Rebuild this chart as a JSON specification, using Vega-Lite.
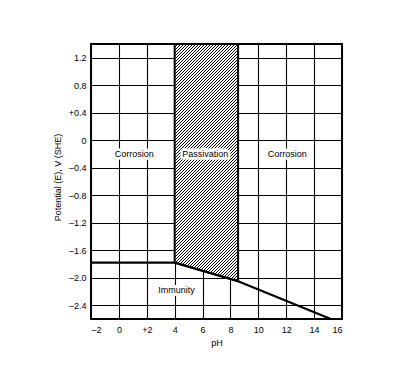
{
"$schema": "https://vega.github.io/schema/vega-lite/v6.json",
"width": 251, "height": 275,
"autosize": {"type": "none"},
"padding": {"left": 91, "top": 44, "right": 58, "bottom": 67},
"background": "white",
"config": {
  "view": {"stroke": "#000", "strokeWidth": 2},
  "font": "Liberation Sans",
  "axis": {"grid": true, "gridColor": "#000", "gridWidth": 1.1, "gridOpacity": 1, "ticks": false, "domain": false,
    "labelFont": "Liberation Sans", "labelFontSize": 9, "labelColor": "#000",
    "titleFont": "Liberation Sans", "titleFontSize": 9, "titleFontWeight": "normal", "titleColor": "#000"}
},
"datasets": {
  "boundary": [{"pH": -2, "E": -1.78}, {"pH": 4, "E": -1.78}, {"pH": 8.55, "E": -2.05}, {"pH": 15.2, "E": -2.6}],
  "passivation": [{"pH": 4, "E": -1.78, "top": 1.4}, {"pH": 8.55, "E": -2.05, "top": 1.4}],
  "labels": [{"label": "Corrosion", "pH": 1.1, "E": -0.2}, {"label": "Passivation", "pH": 6.2, "E": -0.2}, {"label": "Corrosion", "pH": 12.07, "E": -0.2}, {"label": "Immunity", "pH": 4.14, "E": -2.185}]
},
"encoding": {
  "x": {"field": "pH", "type": "quantitative", "scale": {"domain": [-2, 16], "nice": false, "zero": false},
    "axis": {"title": "pH", "values": [-2, 0, 2, 4, 6, 8, 10, 12, 14, 16], "labelExpr": "datum.value < 0 ? '–' + format(-datum.value, 'd') : datum.value == 2 ? '+2' : format(datum.value, 'd')", "labelPadding": 6, "titleY": 23, "titleBaseline": "middle"}},
  "y": {"field": "E", "type": "quantitative", "scale": {"domain": [-2.6, 1.4], "nice": false, "zero": false},
    "axis": {"title": "Potential (E), V (SHE)", "values": [-2.4, -2, -1.6, -1.2, -0.8, -0.4, 0, 0.4, 0.8, 1.2], "labelExpr": "datum.value == 0 ? '0' : datum.value < 0 ? '–' + format(-datum.value, '.1f') : (datum.value < 0.5 ? '+' : '') + format(datum.value, '.1f')", "labelPadding": 5, "titleX": -34, "titleY": 133, "titleBaseline": "middle", "titleAngle": -90}}
},
"layer": [
  {"data": {"name": "passivation"},
   "mark": {"type": "area", "stroke": "#000", "strokeWidth": 2, "opacity": 1,
     "fill": {"gradient": "linear", "x1": 0, "y1": 0, "x2": 0.316, "y2": 1.181, "stops": [
{"offset":0,"color":"#000"},{"offset":0.0035,"color":"#000"},{"offset":0.0035,"color":"#fff"},{"offset":0.01,"color":"#fff"},
{"offset":0.01,"color":"#000"},{"offset":0.0135,"color":"#000"},{"offset":0.0135,"color":"#fff"},{"offset":0.02,"color":"#fff"},
{"offset":0.02,"color":"#000"},{"offset":0.0235,"color":"#000"},{"offset":0.0235,"color":"#fff"},{"offset":0.03,"color":"#fff"},
{"offset":0.03,"color":"#000"},{"offset":0.0335,"color":"#000"},{"offset":0.0335,"color":"#fff"},{"offset":0.04,"color":"#fff"},
{"offset":0.04,"color":"#000"},{"offset":0.0435,"color":"#000"},{"offset":0.0435,"color":"#fff"},{"offset":0.05,"color":"#fff"},
{"offset":0.05,"color":"#000"},{"offset":0.0535,"color":"#000"},{"offset":0.0535,"color":"#fff"},{"offset":0.06,"color":"#fff"},
{"offset":0.06,"color":"#000"},{"offset":0.0635,"color":"#000"},{"offset":0.0635,"color":"#fff"},{"offset":0.07,"color":"#fff"},
{"offset":0.07,"color":"#000"},{"offset":0.0735,"color":"#000"},{"offset":0.0735,"color":"#fff"},{"offset":0.08,"color":"#fff"},
{"offset":0.08,"color":"#000"},{"offset":0.0835,"color":"#000"},{"offset":0.0835,"color":"#fff"},{"offset":0.09,"color":"#fff"},
{"offset":0.09,"color":"#000"},{"offset":0.0935,"color":"#000"},{"offset":0.0935,"color":"#fff"},{"offset":0.10,"color":"#fff"},
{"offset":0.10,"color":"#000"},{"offset":0.1035,"color":"#000"},{"offset":0.1035,"color":"#fff"},{"offset":0.11,"color":"#fff"},
{"offset":0.11,"color":"#000"},{"offset":0.1135,"color":"#000"},{"offset":0.1135,"color":"#fff"},{"offset":0.12,"color":"#fff"},
{"offset":0.12,"color":"#000"},{"offset":0.1235,"color":"#000"},{"offset":0.1235,"color":"#fff"},{"offset":0.13,"color":"#fff"},
{"offset":0.13,"color":"#000"},{"offset":0.1335,"color":"#000"},{"offset":0.1335,"color":"#fff"},{"offset":0.14,"color":"#fff"},
{"offset":0.14,"color":"#000"},{"offset":0.1435,"color":"#000"},{"offset":0.1435,"color":"#fff"},{"offset":0.15,"color":"#fff"},
{"offset":0.15,"color":"#000"},{"offset":0.1535,"color":"#000"},{"offset":0.1535,"color":"#fff"},{"offset":0.16,"color":"#fff"},
{"offset":0.16,"color":"#000"},{"offset":0.1635,"color":"#000"},{"offset":0.1635,"color":"#fff"},{"offset":0.17,"color":"#fff"},
{"offset":0.17,"color":"#000"},{"offset":0.1735,"color":"#000"},{"offset":0.1735,"color":"#fff"},{"offset":0.18,"color":"#fff"},
{"offset":0.18,"color":"#000"},{"offset":0.1835,"color":"#000"},{"offset":0.1835,"color":"#fff"},{"offset":0.19,"color":"#fff"},
{"offset":0.19,"color":"#000"},{"offset":0.1935,"color":"#000"},{"offset":0.1935,"color":"#fff"},{"offset":0.20,"color":"#fff"},
{"offset":0.20,"color":"#000"},{"offset":0.2035,"color":"#000"},{"offset":0.2035,"color":"#fff"},{"offset":0.21,"color":"#fff"},
{"offset":0.21,"color":"#000"},{"offset":0.2135,"color":"#000"},{"offset":0.2135,"color":"#fff"},{"offset":0.22,"color":"#fff"},
{"offset":0.22,"color":"#000"},{"offset":0.2235,"color":"#000"},{"offset":0.2235,"color":"#fff"},{"offset":0.23,"color":"#fff"},
{"offset":0.23,"color":"#000"},{"offset":0.2335,"color":"#000"},{"offset":0.2335,"color":"#fff"},{"offset":0.24,"color":"#fff"},
{"offset":0.24,"color":"#000"},{"offset":0.2435,"color":"#000"},{"offset":0.2435,"color":"#fff"},{"offset":0.25,"color":"#fff"},
{"offset":0.25,"color":"#000"},{"offset":0.2535,"color":"#000"},{"offset":0.2535,"color":"#fff"},{"offset":0.26,"color":"#fff"},
{"offset":0.26,"color":"#000"},{"offset":0.2635,"color":"#000"},{"offset":0.2635,"color":"#fff"},{"offset":0.27,"color":"#fff"},
{"offset":0.27,"color":"#000"},{"offset":0.2735,"color":"#000"},{"offset":0.2735,"color":"#fff"},{"offset":0.28,"color":"#fff"},
{"offset":0.28,"color":"#000"},{"offset":0.2835,"color":"#000"},{"offset":0.2835,"color":"#fff"},{"offset":0.29,"color":"#fff"},
{"offset":0.29,"color":"#000"},{"offset":0.2935,"color":"#000"},{"offset":0.2935,"color":"#fff"},{"offset":0.30,"color":"#fff"},
{"offset":0.30,"color":"#000"},{"offset":0.3035,"color":"#000"},{"offset":0.3035,"color":"#fff"},{"offset":0.31,"color":"#fff"},
{"offset":0.31,"color":"#000"},{"offset":0.3135,"color":"#000"},{"offset":0.3135,"color":"#fff"},{"offset":0.32,"color":"#fff"},
{"offset":0.32,"color":"#000"},{"offset":0.3235,"color":"#000"},{"offset":0.3235,"color":"#fff"},{"offset":0.33,"color":"#fff"},
{"offset":0.33,"color":"#000"},{"offset":0.3335,"color":"#000"},{"offset":0.3335,"color":"#fff"},{"offset":0.34,"color":"#fff"},
{"offset":0.34,"color":"#000"},{"offset":0.3435,"color":"#000"},{"offset":0.3435,"color":"#fff"},{"offset":0.35,"color":"#fff"},
{"offset":0.35,"color":"#000"},{"offset":0.3535,"color":"#000"},{"offset":0.3535,"color":"#fff"},{"offset":0.36,"color":"#fff"},
{"offset":0.36,"color":"#000"},{"offset":0.3635,"color":"#000"},{"offset":0.3635,"color":"#fff"},{"offset":0.37,"color":"#fff"},
{"offset":0.37,"color":"#000"},{"offset":0.3735,"color":"#000"},{"offset":0.3735,"color":"#fff"},{"offset":0.38,"color":"#fff"},
{"offset":0.38,"color":"#000"},{"offset":0.3835,"color":"#000"},{"offset":0.3835,"color":"#fff"},{"offset":0.39,"color":"#fff"},
{"offset":0.39,"color":"#000"},{"offset":0.3935,"color":"#000"},{"offset":0.3935,"color":"#fff"},{"offset":0.40,"color":"#fff"},
{"offset":0.40,"color":"#000"},{"offset":0.4035,"color":"#000"},{"offset":0.4035,"color":"#fff"},{"offset":0.41,"color":"#fff"},
{"offset":0.41,"color":"#000"},{"offset":0.4135,"color":"#000"},{"offset":0.4135,"color":"#fff"},{"offset":0.42,"color":"#fff"},
{"offset":0.42,"color":"#000"},{"offset":0.4235,"color":"#000"},{"offset":0.4235,"color":"#fff"},{"offset":0.43,"color":"#fff"},
{"offset":0.43,"color":"#000"},{"offset":0.4335,"color":"#000"},{"offset":0.4335,"color":"#fff"},{"offset":0.44,"color":"#fff"},
{"offset":0.44,"color":"#000"},{"offset":0.4435,"color":"#000"},{"offset":0.4435,"color":"#fff"},{"offset":0.45,"color":"#fff"},
{"offset":0.45,"color":"#000"},{"offset":0.4535,"color":"#000"},{"offset":0.4535,"color":"#fff"},{"offset":0.46,"color":"#fff"},
{"offset":0.46,"color":"#000"},{"offset":0.4635,"color":"#000"},{"offset":0.4635,"color":"#fff"},{"offset":0.47,"color":"#fff"},
{"offset":0.47,"color":"#000"},{"offset":0.4735,"color":"#000"},{"offset":0.4735,"color":"#fff"},{"offset":0.48,"color":"#fff"},
{"offset":0.48,"color":"#000"},{"offset":0.4835,"color":"#000"},{"offset":0.4835,"color":"#fff"},{"offset":0.49,"color":"#fff"},
{"offset":0.49,"color":"#000"},{"offset":0.4935,"color":"#000"},{"offset":0.4935,"color":"#fff"},{"offset":0.50,"color":"#fff"},
{"offset":0.50,"color":"#000"},{"offset":0.5035,"color":"#000"},{"offset":0.5035,"color":"#fff"},{"offset":0.51,"color":"#fff"},
{"offset":0.51,"color":"#000"},{"offset":0.5135,"color":"#000"},{"offset":0.5135,"color":"#fff"},{"offset":0.52,"color":"#fff"},
{"offset":0.52,"color":"#000"},{"offset":0.5235,"color":"#000"},{"offset":0.5235,"color":"#fff"},{"offset":0.53,"color":"#fff"},
{"offset":0.53,"color":"#000"},{"offset":0.5335,"color":"#000"},{"offset":0.5335,"color":"#fff"},{"offset":0.54,"color":"#fff"},
{"offset":0.54,"color":"#000"},{"offset":0.5435,"color":"#000"},{"offset":0.5435,"color":"#fff"},{"offset":0.55,"color":"#fff"},
{"offset":0.55,"color":"#000"},{"offset":0.5535,"color":"#000"},{"offset":0.5535,"color":"#fff"},{"offset":0.56,"color":"#fff"},
{"offset":0.56,"color":"#000"},{"offset":0.5635,"color":"#000"},{"offset":0.5635,"color":"#fff"},{"offset":0.57,"color":"#fff"},
{"offset":0.57,"color":"#000"},{"offset":0.5735,"color":"#000"},{"offset":0.5735,"color":"#fff"},{"offset":0.58,"color":"#fff"},
{"offset":0.58,"color":"#000"},{"offset":0.5835,"color":"#000"},{"offset":0.5835,"color":"#fff"},{"offset":0.59,"color":"#fff"},
{"offset":0.59,"color":"#000"},{"offset":0.5935,"color":"#000"},{"offset":0.5935,"color":"#fff"},{"offset":0.60,"color":"#fff"},
{"offset":0.60,"color":"#000"},{"offset":0.6035,"color":"#000"},{"offset":0.6035,"color":"#fff"},{"offset":0.61,"color":"#fff"},
{"offset":0.61,"color":"#000"},{"offset":0.6135,"color":"#000"},{"offset":0.6135,"color":"#fff"},{"offset":0.62,"color":"#fff"},
{"offset":0.62,"color":"#000"},{"offset":0.6235,"color":"#000"},{"offset":0.6235,"color":"#fff"},{"offset":0.63,"color":"#fff"},
{"offset":0.63,"color":"#000"},{"offset":0.6335,"color":"#000"},{"offset":0.6335,"color":"#fff"},{"offset":0.64,"color":"#fff"},
{"offset":0.64,"color":"#000"},{"offset":0.6435,"color":"#000"},{"offset":0.6435,"color":"#fff"},{"offset":0.65,"color":"#fff"},
{"offset":0.65,"color":"#000"},{"offset":0.6535,"color":"#000"},{"offset":0.6535,"color":"#fff"},{"offset":0.66,"color":"#fff"},
{"offset":0.66,"color":"#000"},{"offset":0.6635,"color":"#000"},{"offset":0.6635,"color":"#fff"},{"offset":0.67,"color":"#fff"},
{"offset":0.67,"color":"#000"},{"offset":0.6735,"color":"#000"},{"offset":0.6735,"color":"#fff"},{"offset":0.68,"color":"#fff"},
{"offset":0.68,"color":"#000"},{"offset":0.6835,"color":"#000"},{"offset":0.6835,"color":"#fff"},{"offset":0.69,"color":"#fff"},
{"offset":0.69,"color":"#000"},{"offset":0.6935,"color":"#000"},{"offset":0.6935,"color":"#fff"},{"offset":0.70,"color":"#fff"},
{"offset":0.70,"color":"#000"},{"offset":0.7035,"color":"#000"},{"offset":0.7035,"color":"#fff"},{"offset":0.71,"color":"#fff"},
{"offset":0.71,"color":"#000"},{"offset":0.7135,"color":"#000"},{"offset":0.7135,"color":"#fff"},{"offset":0.72,"color":"#fff"},
{"offset":0.72,"color":"#000"},{"offset":0.7235,"color":"#000"},{"offset":0.7235,"color":"#fff"},{"offset":0.73,"color":"#fff"},
{"offset":0.73,"color":"#000"},{"offset":0.7335,"color":"#000"},{"offset":0.7335,"color":"#fff"},{"offset":0.74,"color":"#fff"},
{"offset":0.74,"color":"#000"},{"offset":0.7435,"color":"#000"},{"offset":0.7435,"color":"#fff"},{"offset":0.75,"color":"#fff"},
{"offset":0.75,"color":"#000"},{"offset":0.7535,"color":"#000"},{"offset":0.7535,"color":"#fff"},{"offset":0.76,"color":"#fff"},
{"offset":0.76,"color":"#000"},{"offset":0.7635,"color":"#000"},{"offset":0.7635,"color":"#fff"},{"offset":0.77,"color":"#fff"},
{"offset":0.77,"color":"#000"},{"offset":0.7735,"color":"#000"},{"offset":0.7735,"color":"#fff"},{"offset":0.78,"color":"#fff"},
{"offset":0.78,"color":"#000"},{"offset":0.7835,"color":"#000"},{"offset":0.7835,"color":"#fff"},{"offset":0.79,"color":"#fff"},
{"offset":0.79,"color":"#000"},{"offset":0.7935,"color":"#000"},{"offset":0.7935,"color":"#fff"},{"offset":0.80,"color":"#fff"},
{"offset":0.80,"color":"#000"},{"offset":0.8035,"color":"#000"},{"offset":0.8035,"color":"#fff"},{"offset":0.81,"color":"#fff"},
{"offset":0.81,"color":"#000"},{"offset":0.8135,"color":"#000"},{"offset":0.8135,"color":"#fff"},{"offset":0.82,"color":"#fff"},
{"offset":0.82,"color":"#000"},{"offset":0.8235,"color":"#000"},{"offset":0.8235,"color":"#fff"},{"offset":0.83,"color":"#fff"},
{"offset":0.83,"color":"#000"},{"offset":0.8335,"color":"#000"},{"offset":0.8335,"color":"#fff"},{"offset":0.84,"color":"#fff"},
{"offset":0.84,"color":"#000"},{"offset":0.8435,"color":"#000"},{"offset":0.8435,"color":"#fff"},{"offset":0.85,"color":"#fff"},
{"offset":0.85,"color":"#000"},{"offset":0.8535,"color":"#000"},{"offset":0.8535,"color":"#fff"},{"offset":0.86,"color":"#fff"},
{"offset":0.86,"color":"#000"},{"offset":0.8635,"color":"#000"},{"offset":0.8635,"color":"#fff"},{"offset":0.87,"color":"#fff"},
{"offset":0.87,"color":"#000"},{"offset":0.8735,"color":"#000"},{"offset":0.8735,"color":"#fff"},{"offset":0.88,"color":"#fff"},
{"offset":0.88,"color":"#000"},{"offset":0.8835,"color":"#000"},{"offset":0.8835,"color":"#fff"},{"offset":0.89,"color":"#fff"},
{"offset":0.89,"color":"#000"},{"offset":0.8935,"color":"#000"},{"offset":0.8935,"color":"#fff"},{"offset":0.90,"color":"#fff"},
{"offset":0.90,"color":"#000"},{"offset":0.9035,"color":"#000"},{"offset":0.9035,"color":"#fff"},{"offset":0.91,"color":"#fff"},
{"offset":0.91,"color":"#000"},{"offset":0.9135,"color":"#000"},{"offset":0.9135,"color":"#fff"},{"offset":0.92,"color":"#fff"},
{"offset":0.92,"color":"#000"},{"offset":0.9235,"color":"#000"},{"offset":0.9235,"color":"#fff"},{"offset":0.93,"color":"#fff"},
{"offset":0.93,"color":"#000"},{"offset":0.9335,"color":"#000"},{"offset":0.9335,"color":"#fff"},{"offset":0.94,"color":"#fff"},
{"offset":0.94,"color":"#000"},{"offset":0.9435,"color":"#000"},{"offset":0.9435,"color":"#fff"},{"offset":0.95,"color":"#fff"},
{"offset":0.95,"color":"#000"},{"offset":0.9535,"color":"#000"},{"offset":0.9535,"color":"#fff"},{"offset":0.96,"color":"#fff"},
{"offset":0.96,"color":"#000"},{"offset":0.9635,"color":"#000"},{"offset":0.9635,"color":"#fff"},{"offset":0.97,"color":"#fff"},
{"offset":0.97,"color":"#000"},{"offset":0.9735,"color":"#000"},{"offset":0.9735,"color":"#fff"},{"offset":0.98,"color":"#fff"},
{"offset":0.98,"color":"#000"},{"offset":0.9835,"color":"#000"},{"offset":0.9835,"color":"#fff"},{"offset":0.99,"color":"#fff"},
{"offset":0.99,"color":"#000"},{"offset":0.9935,"color":"#000"},{"offset":0.9935,"color":"#fff"},{"offset":1,"color":"#fff"}
     ]}},
   "encoding": {"y2": {"field": "top"}}},
  {"data": {"name": "boundary"},
   "mark": {"type": "line", "color": "#000", "strokeWidth": 2.2},
   "encoding": {}},
  {"data": {"name": "labels"},
   "mark": {"type": "point", "filled": true, "fill": "#fff", "strokeWidth": 0, "opacity": 1, "size": 400},
   "encoding": {"shape": {"field": "label", "type": "nominal", "legend": null,
     "scale": {"domain": ["Corrosion", "Passivation", "Immunity"], "range": ["M-2,-0.55L2,-0.55L2,0.55L-2,0.55Z", "M-2.25,-0.55L2.25,-0.55L2.25,0.55L-2.25,0.55Z", "M-1.85,-0.55L1.85,-0.55L1.85,0.55L-1.85,0.55Z"]}}}},
  {"data": {"name": "labels"},
   "mark": {"type": "text", "font": "Liberation Sans", "fontSize": 9, "color": "#fff", "stroke": "#fff", "strokeWidth": 5, "strokeJoin": "round", "baseline": "middle", "align": "center"},
   "encoding": {"text": {"field": "label"}}},
  {"data": {"name": "labels"},
   "mark": {"type": "text", "font": "Liberation Sans", "fontSize": 9, "color": "#000", "baseline": "middle", "align": "center"},
   "encoding": {"text": {"field": "label"}}}
]
}
